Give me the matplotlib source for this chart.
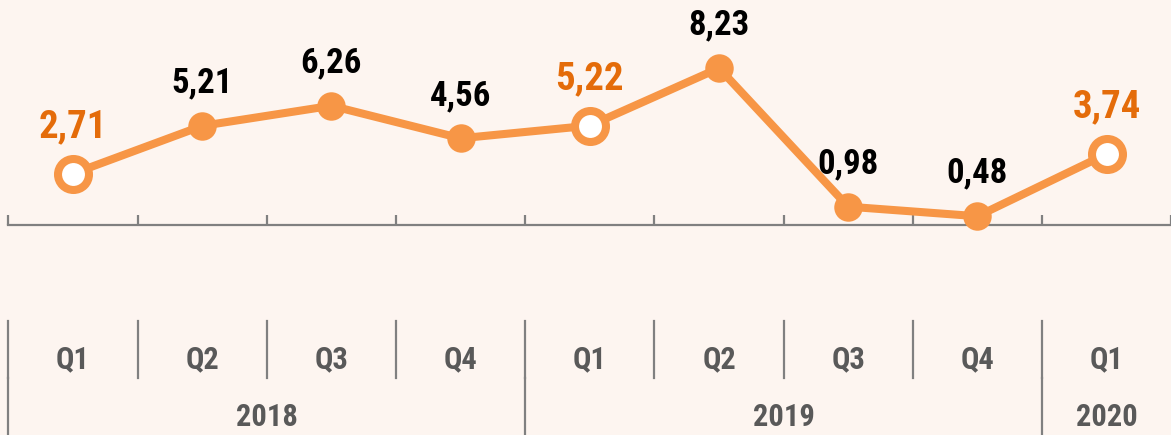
import matplotlib
matplotlib.use("Agg")
import matplotlib.pyplot as plt
from matplotlib.transforms import blended_transform_factory

quarters = ["Q1", "Q2", "Q3", "Q4", "Q1", "Q2", "Q3", "Q4", "Q1"]
years = ["2018", "2019", "2020"]
year_spans = [(0, 4), (4, 8), (8, 9)]  # [start, end) category indices
values = [2.71, 5.21, 6.26, 4.56, 5.22, 8.23, 0.98, 0.48, 3.74]
labels = ["2,71", "5,21", "6,26", "4,56", "5,22", "8,23", "0,98", "0,48", "3,74"]
highlight = [True, False, False, False, True, False, False, False, True]

BG = "#FDF5F0"
LINE = "#F79646"
ORANGE_TXT = "#E46C0A"
GRAY_TXT = "#595959"
AXIS = "#808080"
FONT = ["Roboto Condensed", "DejaVu Sans"]
plt.rcParams["font.family"] = FONT

W, H = 1171, 435
fig = plt.figure(figsize=(W / 100 + 0.002, H / 100 + 0.002), dpi=100)
fig.patch.set_facecolor(BG)
ax = fig.add_axes([0, 0, 1, 1])
ax.set_facecolor(BG)

# pixel-based layout -> data limits
px_per_cat = 130.0
first_center_px = 73.5
px_per_unit = 19.1
zero_px = 225.5
ax.set_xlim((0 - first_center_px) / px_per_cat, (W - first_center_px) / px_per_cat)
ax.set_ylim(-(H - zero_px) / px_per_unit, zero_px / px_per_unit)

x = list(range(len(values)))
ax.plot(x, values, color=LINE, lw=5.8, zorder=2, solid_capstyle="round")
for xi, v, hl, lab in zip(x, values, highlight, labels):
    if hl:
        ax.plot(xi, v, "o", ms=22.3, mfc="white", mec=LINE, mew=5.8, zorder=3)
        ax.annotate(lab, (xi, v), xytext=(0, 34), textcoords="offset points",
                    ha="center", va="center", fontsize=28, fontweight="bold",
                    color=ORANGE_TXT, zorder=4)
    else:
        ax.plot(xi, v, "o", ms=20.5, mfc=LINE, mec=LINE, mew=0, zorder=3)
        ax.annotate(lab, (xi, v), xytext=(0, 31), textcoords="offset points",
                    ha="center", va="center", fontsize=25, fontweight="bold",
                    color="black", zorder=4)

# axis line with inward ticks at category boundaries
for s in ["top", "left", "right"]:
    ax.spines[s].set_visible(False)
ax.spines["bottom"].set_position(("data", 0))
ax.spines["bottom"].set_color(AXIS)
ax.spines["bottom"].set_linewidth(1.6)
ax.spines["bottom"].set_bounds(-0.5, len(values) + 0.5)
bounds = [i - 0.5 for i in range(len(values) + 1)]
ax.set_xticks(bounds)
ax.set_xticklabels([])
ax.tick_params(axis="x", direction="in", length=7.2, width=1.6, color=AXIS)
ax.set_yticks([])

# category labels (two levels)
tr = blended_transform_factory(ax.transData, fig.transFigure)
def fy(px):
    return 1 - px / H

for b in bounds[:-1]:
    ax.plot([b, b], [fy(321), fy(378)], transform=tr, color=AXIS, lw=1.6,
            clip_on=False)
for (s, e) in year_spans:
    ax.plot([s - 0.5, s - 0.5], [fy(378), fy(H + 2)], transform=tr, color=AXIS,
            lw=1.6, clip_on=False)
for xi, q in zip(x, quarters):
    ax.text(xi, fy(359), q, transform=tr, ha="center", va="center",
            fontsize=22, fontweight="bold", color=GRAY_TXT)
for (s, e), yl in zip(year_spans, years):
    ax.text((s + e - 1) / 2, fy(417), yl, transform=tr, ha="center",
            va="center", fontsize=22, fontweight="bold", color=GRAY_TXT)

fig.savefig("out.png", dpi=100, facecolor=BG)
